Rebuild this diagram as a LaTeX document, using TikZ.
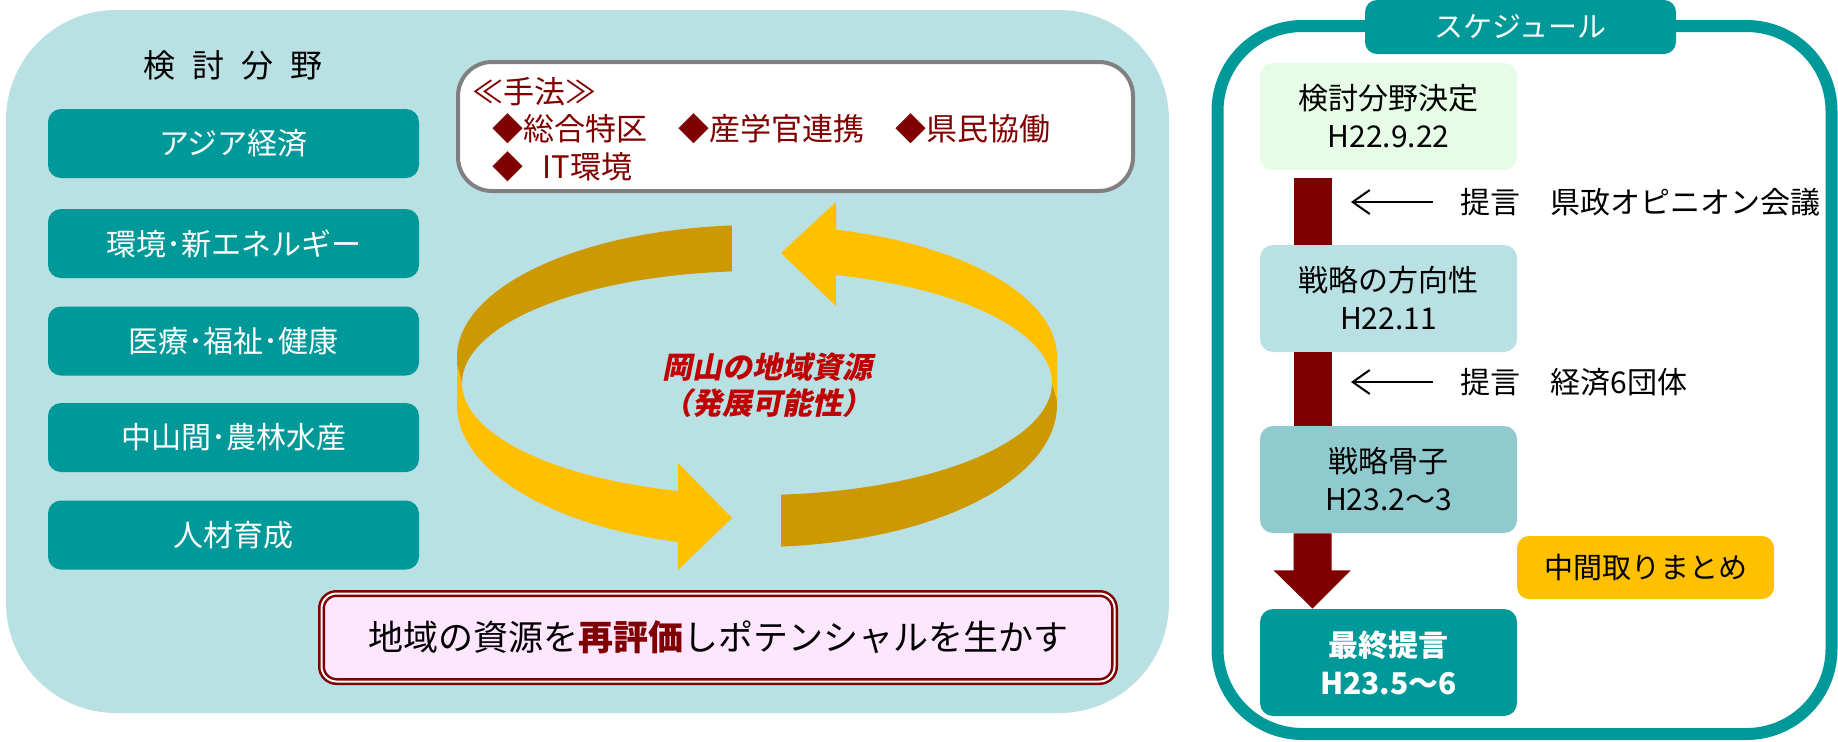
\documentclass[tikz,border=0pt]{standalone}
\usepackage{fontspec}
\setmainfont{Noto Sans CJK JP}
\newfontfamily\jpslant{Noto Sans CJK JP}[FakeSlant=0.2, BoldFeatures={FakeSlant=0.2}]
\usetikzlibrary{arrows.meta,calc}
\definecolor{panelbg}{HTML}{B9E0E3}
\definecolor{teal1}{HTML}{009999}
\definecolor{dred}{HTML}{800000}
\definecolor{ringY}{HTML}{FFC000}
\definecolor{ringD}{HTML}{CC9900}
\definecolor{redtxt}{HTML}{C00000}
\definecolor{pinkbg}{HTML}{FFE6FF}
\definecolor{greenbg}{HTML}{E6FCE6}
\definecolor{boxthree}{HTML}{8FCBCE}
\definecolor{grayb}{HTML}{808080}
\tikzset{
  fieldbox/.style={fill=teal1, rounded corners=6.5pt, minimum width=185.5pt, minimum height=34.5pt, text=white, font=\fontsize{15}{15}\selectfont, inner sep=0pt},
  schedbox/.style={rounded corners=6.5pt, minimum width=128.5pt, minimum height=53.5pt, align=center, font=\fontsize{15}{19}\selectfont, inner sep=0pt},
  thinarr/.style={line width=1pt, -{Straight Barb[length=8.5pt,width=12pt,line width=1pt]}},
  bartop/.style={fill=dred},
  plain/.style={inner sep=0pt, font=\fontsize{15}{15}\selectfont}
}
\begin{document}
\begin{tikzpicture}[x=0.5pt,y=-0.5pt]
\useasboundingbox (0,0) rectangle (1838,741);
% left panel
\fill[panelbg, rounded corners=55pt] (6,10) rectangle (1169,713);
\node[plain, font=\fontsize{16}{16}\selectfont] (kt) at (233,65) {検\hspace{8.5pt}討\hspace{8.5pt}分\hspace{8.5pt}野};
\node[fieldbox] (f1) at (233.5,143.5) {アジア経済};
\node[fieldbox] (f2) at (233.5,243.5) {環境･新エネルギー};
\node[fieldbox] (f3) at (233.5,341) {医療･福祉･健康};
\node[fieldbox] (f4) at (233.5,437.5) {中山間･農林水産};
\node[fieldbox] (f5) at (233.5,535) {人材育成};
% method box
\node[draw=grayb, line width=2pt, fill=white, rounded corners=17pt, minimum width=337.5pt, minimum height=64.5pt, inner sep=0pt] (mb) at (795.5,126.5) {};
\node[anchor=west, align=left, text=dred, font=\fontsize{15.5}{18.75}\selectfont, inner sep=0pt] (mt) at (472,129.5) {≪手法≫\\\hspace*{10pt}◆総合特区　◆産学官連携　◆県民協働\\\hspace*{10pt}◆\hspace{9.5pt}IT環境};
% ring
\fill[ringD] plot[domain=265.2:180, samples=50, variable=\t] ({757+300*cos(\t)},{357+132*sin(\t)}) -- (457,365) -- (462,383) -- plot[domain=180:265.1, samples=50, variable=\t] ({757+295*cos(\t)},{383+112*sin(\t)}) -- cycle;
\fill[ringY] (457,365) -- plot[domain=180:105.3, samples=50, variable=\t] ({757+300*cos(\t)},{405+142*sin(\t)}) -- (678,570) -- (732,518) -- (678,463) -- plot[domain=105.5:180, samples=50, variable=\t] ({757+295*cos(\t)},{383+112*sin(\t)}) -- cycle;
\fill[ringD] plot[domain=85.4:0, samples=50, variable=\t] ({757+300*cos(\t)},{405+142*sin(\t)}) -- (1057,400) -- (1052,383) -- plot[domain=0:85.3, samples=50, variable=\t] ({757+295*cos(\t)},{383+112*sin(\t)}) -- cycle;
\fill[ringY] (781,253) -- (836,202) -- plot[domain=285.3:360, samples=50, variable=\t] ({757+300*cos(\t)},{357+132*sin(\t)}) -- (1057,400) -- (1052,383) -- plot[domain=360:285.5, samples=50, variable=\t] ({757+295*cos(\t)},{383+112*sin(\t)}) -- (836,306) -- cycle;
\node[align=center, text=redtxt, font=\jpslant\fontsize{15}{18}\selectfont\bfseries, inner sep=0pt] (rt) at (767,385) {岡山の地域資源\\（発展可能性）};
% bottom message
\node[draw=dred, double=white, line width=1.25pt, double distance=1pt, fill=pinkbg, rounded corners=7.5pt, minimum width=396.5pt, minimum height=44pt, inner sep=0pt, font=\fontsize{17.5}{17.5}\selectfont] (pk) at (718,637.5) {地域の資源を{\bfseries\color{dred}再評価}しポテンシャルを生かす};
% right panel
\draw[teal1, line width=6pt, fill=white, rounded corners=42.5pt] (1217.5,26) rectangle (1831.5,734);
\node[fill=teal1, rounded corners=6pt, minimum width=155.5pt, minimum height=27pt, text=white, inner sep=0pt, font=\fontsize{14.5}{14.5}\selectfont] (tab) at (1520.5,27) {スケジュール};
\node[schedbox, fill=greenbg] (b1) at (1388.5,116.5) {検討分野決定\\H22.9.22};
\node[schedbox, fill=panelbg] (b2) at (1388.5,298.5) {戦略の方向性\\H22.11};
\node[schedbox, fill=boxthree] (b3) at (1388.5,479.5) {戦略骨子\\H23.2～3};
\node[schedbox, fill=teal1, text=white, font=\fontsize{15}{19}\selectfont\bfseries] (b4) at (1388.5,662.5) {最終提言\\H23.5～6};
\node[fill=ringY, rounded corners=6pt, minimum width=128.5pt, minimum height=31.5pt, inner sep=0pt, font=\fontsize{14.5}{14.5}\selectfont] (mid) at (1645.5,567.5) {中間取りまとめ};
\fill[bartop] ($(b1.south west)+(34,8)$) rectangle ($(b2.north west)+(72,0)$);
\fill[bartop] ($(b2.south west)+(34,0)$) rectangle ($(b3.north west)+(72,0)$);
\fill[bartop] ($(b3.south west)+(34,0)$) -- ++(0,37) -- ++(-20,0) -- ($(b4.north west)+(53,0)$) -- ($(b3.south west)+(91,37)$) -- ++(-19,0) -- ($(b3.south west)+(72,0)$) -- cycle;
\coordinate (a1s) at (1433,202);
\coordinate (a1e) at (1351,202);
\coordinate (a2s) at (1433,382);
\coordinate (a2e) at (1351,382);
\draw[thinarr] (a1s) -- (a1e);
\draw[thinarr] (a2s) -- (a2e);
\node[plain, anchor=west] (p1) at (1460,202) {提言　県政オピニオン会議};
\node[plain, anchor=west] (p2) at (1460,382) {提言　経済6団体};
\end{tikzpicture}
\end{document}
